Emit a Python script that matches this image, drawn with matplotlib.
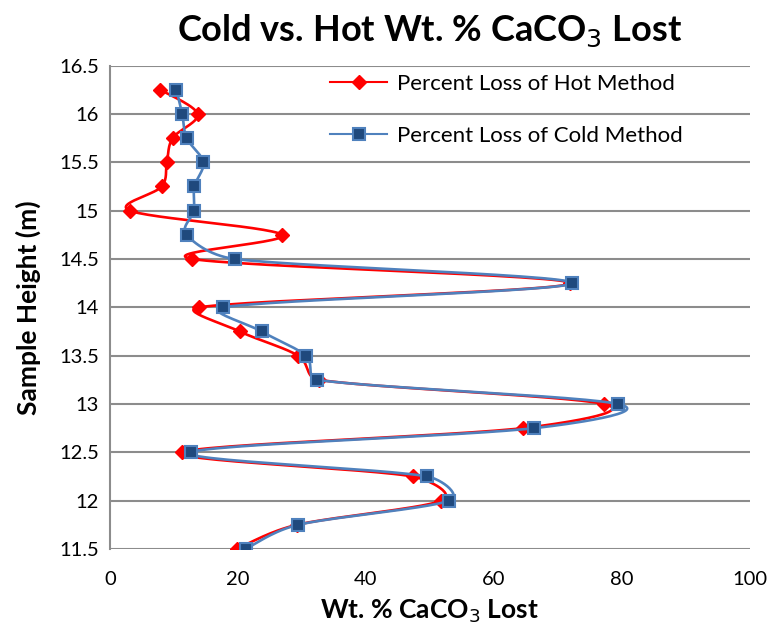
import numpy as np
import matplotlib
matplotlib.use("Agg")
import matplotlib.pyplot as plt

# ── Data ──────────────────────────────────────────────────────────────────────
heights = [16.25, 16.0, 15.75, 15.5, 15.25, 15.0, 14.75, 14.5, 14.25, 14.0,
           13.75, 13.5, 13.25, 13.0, 12.75, 12.5, 12.25, 12.0, 11.75, 11.5]
hot_loss = [7.9, 13.7, 9.8, 8.9, 8.1, 3.1, 26.9, 12.9, 71.9, 13.9,
            20.3, 29.4, 32.6, 77.2, 64.5, 11.2, 47.3, 51.8, 29.2, 19.8]
cold_loss = [10.4, 11.3, 12.0, 14.6, 13.2, 13.1, 12.0, 19.5, 72.2, 17.6,
             23.7, 30.6, 32.4, 79.4, 66.3, 12.6, 49.6, 53.0, 29.4, 21.2]

X_TICKS = [0, 20, 40, 60, 80, 100]
Y_TICKS = [11.5, 12, 12.5, 13, 13.5, 14, 14.5, 15, 15.5, 16, 16.5]

plt.rcParams["font.family"] = ["Lato", "DejaVu Sans"]


def smooth(x, y, yscale=15.2, n=30, k=0.45):
    """Bezier smoothing through the points; control arms capped by segment length."""
    x = np.asarray(x, float)
    y = np.asarray(y, float) * yscale
    p = np.column_stack([x, y])
    m = len(p)
    tang = np.array([p[min(i + 1, m - 1)] - p[max(i - 1, 0)] for i in range(m)]) / 6
    out = []
    t = np.linspace(0, 1, n)[:, None]
    for i in range(m - 1):
        p1, p2 = p[i], p[i + 1]
        d = np.linalg.norm(p2 - p1)
        a1, a2 = tang[i], tang[i + 1]
        n1, n2 = np.linalg.norm(a1), np.linalg.norm(a2)
        if n1 > k * d:
            a1 = a1 * k * d / n1
        if n2 > k * d:
            a2 = a2 * k * d / n2
        c1 = p1 + a1
        c2 = p2 - a2
        seg = ((1 - t) ** 3) * p1 + 3 * ((1 - t) ** 2) * t * c1 \
            + 3 * (1 - t) * t ** 2 * c2 + t ** 3 * p2
        out.append(seg)
    out = np.vstack(out)
    return out[:, 0], out[:, 1] / yscale


fig = plt.figure(figsize=(7.74, 6.25), dpi=100)
ax = fig.add_axes([0.142, 0.1216, 0.827, 0.7734])

hx, hy = smooth(hot_loss, heights)
cx, cy = smooth(cold_loss, heights)

RED = "#ff0000"
BLUE = "#4f81bd"

ax.plot(hx, hy, color=RED, lw=1.9, zorder=3)
ax.plot(hot_loss, heights, ls="none", marker="D", ms=7, color=RED, zorder=4)
ax.plot(cx, cy, color=BLUE, lw=1.9, zorder=5)
ax.plot(cold_loss, heights, ls="none", marker="s", ms=8.5,
        mfc="#1f497d", mec=BLUE, mew=1.5, zorder=6)

# legend handles
ax.plot([], [], color=RED, lw=1.5, marker="D", ms=7, label="Percent Loss of Hot Method")
ax.plot([], [], color=BLUE, lw=1.5, marker="s", ms=8.5, mfc="#1f497d", mec=BLUE,
        mew=1.5, label="Percent Loss of Cold Method")
handles, labels = ax.get_legend_handles_labels()
ax.legend(handles, labels, loc="upper left", bbox_to_anchor=(0.312, 1.025),
          frameon=False, fontsize=16, labelspacing=1.45, handlelength=2.6,
          handletextpad=0.45)

ax.set_xlim(0, 100)
ax.set_ylim(11.5, 16.5)
ax.set_xticks(X_TICKS)
ax.set_yticks(Y_TICKS)
ax.set_yticklabels([f"{v:g}" for v in Y_TICKS])
ax.tick_params(length=0, labelsize=14.5, pad=8)
ax.tick_params(axis="x", pad=16)
ax.yaxis.grid(True, color="#8c8c8c", lw=1.5)
ax.set_axisbelow(True)
for s in ["top", "right", "bottom"]:
    ax.spines[s].set_visible(False)
ax.spines["left"].set_color("#8c8c8c")
ax.spines["left"].set_linewidth(1.5)

ax.set_title("Cold vs. Hot Wt. % CaCO$_3$ Lost", fontsize=26, fontweight="bold", pad=18)
ax.set_xlabel("Wt. % CaCO$_3$ Lost", fontsize=19, fontweight="bold")
ax.set_ylabel("Sample Height (m)", fontsize=19, fontweight="bold")
ax.yaxis.set_label_coords(-0.108, 0.5)
ax.xaxis.set_label_coords(0.5, -0.1)

fig.savefig("out.png", dpi=100)
